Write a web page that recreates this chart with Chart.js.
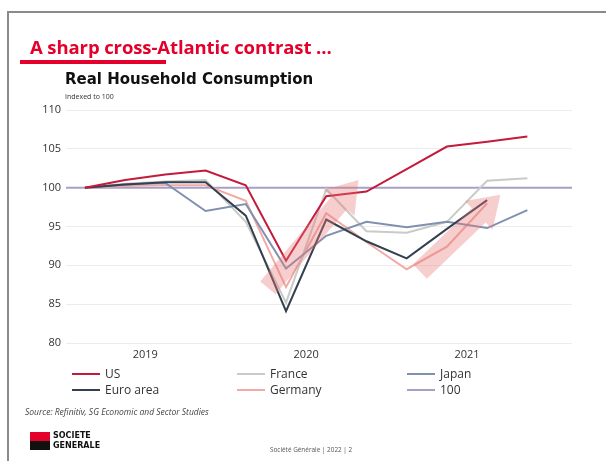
<!DOCTYPE html>
<html>
<head>
<meta charset="utf-8">
<script src="https://cdn.jsdelivr.net/npm/chart.js@4"></script>
<style>
  html, body { margin: 0; padding: 0; background: #fff; }
  body { width: 606px; height: 461px; position: relative; overflow: hidden; font-family: "Open Sans", sans-serif; }
  #frame { position: absolute; left: 7px; top: 11px; right: -4px; bottom: -4px; border-top: 2px solid #8a8a8a; border-left: 2px solid #8a8a8a; }
  #chart { position: absolute; left: 0; top: 0; }
  .abs { position: absolute; white-space: nowrap; }
  #headline { left: 30px; top: 34px; font-size: 18.5px; font-weight: 700; color: #e4002b; letter-spacing: -0.1px; }
  #headbar { left: 20px; top: 60px; width: 146px; height: 4px; background: #e4002b; }
  #title { left: 65px; top: 70px; font-family: "DejaVu Sans", sans-serif; font-size: 15px; font-weight: 700; color: #111; }
  #sub { left: 65px; top: 92px; font-size: 7px; color: #333; }
  #source { left: 25px; top: 406px; font-size: 8.5px; font-style: italic; color: #444; }
  .leg { position: absolute; display: flex; align-items: center; font-size: 12px; color: #333; }
  .leg i { display: inline-block; width: 28px; height: 2px; margin-right: 5px; }
  #logo-red { left: 30px; top: 432px; width: 20px; height: 9px; background: #e4002b; }
  #logo-black { left: 30px; top: 441px; width: 20px; height: 9px; background: #111; }
  #logo-text { left: 53px; top: 431px; font-family: "DejaVu Sans", sans-serif; font-size: 8px; font-weight: 700; line-height: 10px; color: #111; }
  #footer { left: 270px; top: 445px; font-size: 6.4px; color: #555; }
</style>
</head>
<body>
<div id="frame"></div>
<canvas id="chart" width="606" height="461"></canvas>
<div class="abs" id="headline">A sharp cross-Atlantic contrast ...</div>
<div class="abs" id="headbar"></div>
<div class="abs" id="title">Real Household Consumption</div>
<div class="abs" id="sub">Indexed to 100</div>
<div id="legend"></div>
<div class="abs" id="source">Source: Refinitiv, SG Economic and Sector Studies</div>
<div class="abs" id="logo-red"></div>
<div class="abs" id="logo-black"></div>
<div class="abs" id="logo-text">SOCIETE<br>GENERALE</div>
<div class="abs" id="footer">Société Générale | 2022 | 2</div>
<script>
// Quarterly index, 2019 Q1 = 100
const quarters = ['2019 Q1','2019 Q2','2019 Q3','2019 Q4','2020 Q1','2020 Q2','2020 Q3','2020 Q4','2021 Q1','2021 Q2','2021 Q3','2021 Q4'];
const years = ['2019', '2020', '2021'];
const yTicks = [80, 85, 90, 95, 100, 105, 110];

const us       = [100, 101.0, 101.7, 102.2, 100.3, 90.6, 98.9, 99.5, 102.4, 105.3, 105.9, 106.6];
const euroArea = [100, 100.4, 100.7, 100.7, 96.4, 84.1, 95.9, 93.1, 90.9, 94.7, 98.4, null];
const france   = [100, 100.5, 100.8, 101.0, 95.6, 85.2, 99.8, 94.4, 94.2, 95.6, 100.9, 101.2];
const germany  = [100, 100.2, 100.3, 100.3, 98.3, 87.2, 96.7, 93.0, 89.5, 92.4, 98.0, null];
const japan    = [100, 100.4, 100.6, 97.0, 97.9, 89.6, 93.8, 95.6, 94.9, 95.6, 94.8, 97.1];
const baseline = 100;

// Highlight arrows: [tail quarter index, tail value, tip quarter index, tip value]
const arrows = [
  [4.55, 87.1, 6.8, 101.0],
  [8.33, 89.2, 10.33, 99.1]
];

const X_MIN = -0.47, X_MAX = 12.11;

const toPoints = arr => arr.map((v, i) => ({ x: i, y: v }));

const series = [
  { label: 'US',        color: '#c41a3b', data: us,       order: 0 },
  { label: 'Euro area', color: '#34404f', data: euroArea, order: 1 },
  { label: 'France',    color: '#c9cbc7', data: france,   order: 3 },
  { label: 'Germany',   color: '#f1aaa6', data: germany,  order: 4 },
  { label: 'Japan',     color: '#8190b0', data: japan,    order: 2 },
  { label: '100',       color: '#a99fc6', data: null,     order: 5 }
];

const datasets = series.map(s => ({
  label: s.label,
  data: s.data ? toPoints(s.data) : [{ x: X_MIN, y: baseline }, { x: X_MAX, y: baseline }],
  borderColor: s.color,
  backgroundColor: s.color,
  borderWidth: 2,
  pointRadius: 0,
  tension: 0,
  spanGaps: false,
  order: s.order
}));

// Translucent trend arrows placed in data space
const arrowPlugin = {
  id: 'trendArrows',
  afterDatasetsDraw(chart) {
    const { ctx, scales: { x, y } } = chart;
    ctx.save();
    ctx.fillStyle = 'rgba(234, 120, 120, 0.36)';
    arrows.forEach(([x0, y0, x1, y1]) => {
      const ax = x.getPixelForValue(x0), ay = y.getPixelForValue(y0);
      const bx = x.getPixelForValue(x1), by = y.getPixelForValue(y1);
      const dx = bx - ax, dy = by - ay, len = Math.hypot(dx, dy);
      const ux = dx / len, uy = dy / len, px = -uy, py = ux;
      const shaft = 10, head = 20, headLen = 30;
      const hx = bx - ux * headLen, hy = by - uy * headLen;
      ctx.beginPath();
      ctx.moveTo(ax + px * shaft, ay + py * shaft);
      ctx.lineTo(hx + px * shaft, hy + py * shaft);
      ctx.lineTo(hx + px * head, hy + py * head);
      ctx.lineTo(bx, by);
      ctx.lineTo(hx - px * head, hy - py * head);
      ctx.lineTo(hx - px * shaft, hy - py * shaft);
      ctx.lineTo(ax - px * shaft, ay - py * shaft);
      ctx.closePath();
      ctx.fill();
    });
    ctx.restore();
  }
};

new Chart(document.getElementById('chart'), {
  type: 'line',
  data: { datasets },
  plugins: [arrowPlugin],
  options: {
    responsive: false,
    animation: false,
    events: [],
    layout: { padding: { left: 0, top: 110, right: 34, bottom: 96 } },
    plugins: { legend: { display: false }, tooltip: { enabled: false } },
    scales: {
      x: {
        type: 'linear',
        min: X_MIN,
        max: X_MAX,
        grid: { display: false, drawTicks: false },
        border: { display: false },
        afterBuildTicks: scale => {
          scale.ticks = years.map((_, i) => ({ value: i * 4 + 1.5 }));
        },
        afterFit: scale => { scale.height = 22; },
        ticks: {
          padding: 5,
          autoSkip: false,
          maxRotation: 0,
          color: '#333',
          font: { family: 'Open Sans', size: 11 },
          callback: (value, index) => years[index]
        }
      },
      y: {
        min: 80,
        max: 110,
        afterBuildTicks: scale => { scale.ticks = yTicks.map(v => ({ value: v })); },
        afterFit: scale => { scale.width = 66; },
        grid: { color: '#ececec', lineWidth: 1, drawTicks: false },
        border: { display: false },
        ticks: {
          padding: 5,
          color: '#333',
          font: { family: 'Open Sans', size: 11 }
        }
      }
    }
  }
});

// Legend laid out in three columns, two rows
const legendCols = [72, 237, 407];
const legendRows = [365, 381];
const legend = document.getElementById('legend');
series.forEach((s, i) => {
  const el = document.createElement('div');
  el.className = 'leg';
  el.style.left = legendCols[Math.floor(i / 2)] + 'px';
  el.style.top = legendRows[i % 2] + 'px';
  el.innerHTML = '<i style="background:' + s.color + '"></i>' + s.label;
  legend.appendChild(el);
});
</script>
</body>
</html>
